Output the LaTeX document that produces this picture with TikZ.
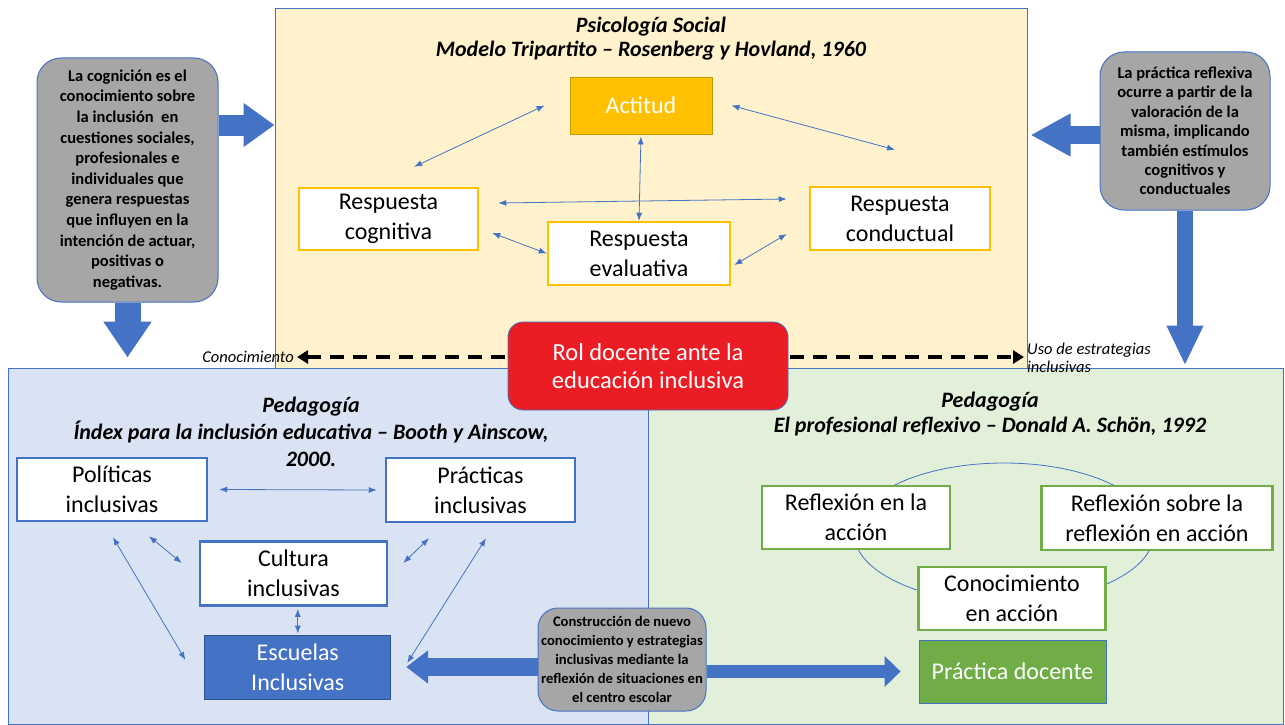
\documentclass[tikz,border=0pt]{standalone}
\usepackage{fontspec}
\setmainfont{Carlito}
\usetikzlibrary{arrows.meta}

\definecolor{officeblue}{HTML}{4472C4}
\definecolor{darkblue}{HTML}{2F528F}
\definecolor{gold}{HTML}{FFC000}
\definecolor{darkgold}{HTML}{C49A00}
\definecolor{leafgreen}{HTML}{70AD47}
\definecolor{notegray}{HTML}{A6A6A6}
\definecolor{rolred}{HTML}{EC1C24}
\definecolor{yellowbg}{HTML}{FFF2CC}
\definecolor{bluebg}{HTML}{DAE3F3}
\definecolor{greenbg}{HTML}{E2F0D9}

\begin{document}
\begin{tikzpicture}[x=1pt,y=-1pt,
  panel/.style={draw=officeblue, line width=1pt},
  heading/.style={font=\bfseries\itshape\fontsize{22}{#1}\selectfont, align=center},
  boxtext/.style={font=\fontsize{24}{30}\selectfont, align=center, inner sep=0pt},
  goldbox/.style={boxtext, draw=gold, line width=2.5pt, fill=white},
  bluebox/.style={boxtext, draw=officeblue, line width=2.5pt, fill=white},
  greenbox/.style={boxtext, draw=leafgreen, line width=2.5pt, fill=white},
  note/.style={draw=officeblue, line width=1pt, fill=notegray, align=center, inner sep=0pt,
    font=\bfseries\fontsize{16.5}{#1}\selectfont},
  link/.style={officeblue, line width=0.8pt, {Latex[length=8pt,width=6pt]}-{Latex[length=8pt,width=6pt]}},
  bigarrow/.style args={#1/#2/#3}{officeblue, line width=#1, -{Triangle[width=#2,length=#3]}},
  sidelabel/.style={font=\itshape\fontsize{16.5}{18}\selectfont, inner sep=0pt}]

  \useasboundingbox (0,0) rectangle (1285,725);

  % three panels
  \node[panel, fill=yellowbg, minimum width=752, minimum height=359] (psico) at (651,188.5) {};
  \node[panel, fill=bluebg, minimum width=640, minimum height=356] (bluepanel) at (328,546) {};
  \node[panel, fill=greenbg, minimum width=635, minimum height=356] (greenpanel) at (965.5,546) {};

  \node[heading=24] (psicotitle) at (651,39) {Psicología Social\\Modelo Tripartito – Rosenberg y Hovland, 1960};
  \node[heading=27] (indextitle) at (311,432) {Pedagogía\\Índex para la inclusión educativa – Booth y Ainscow,\\2000.};
  \node[heading=25] (schontitle) at (990,414) {Pedagogía\\El profesional reflexivo – Donald A. Schön, 1992};

  % tripartite model
  \node[boxtext, fill=gold, draw=darkgold, line width=0.8pt, text=white, minimum width=142, minimum height=57] (act) at (641,105.5) {Actitud};
  \node[goldbox, minimum width=179, minimum height=62] (cog) at (388.5,219) {Respuesta\\cognitiva};
  \node[goldbox, minimum width=182, minimum height=63] (eva) at (639,253.5) {Respuesta\\evaluativa};
  \node[goldbox, minimum width=180, minimum height=63] (con) at (900,218.5) {Respuesta\\conductual};

  \draw[link] ([shift={(25.5,-20)}]cog.north) -- ([shift={(-25,0)}]act.west);
  \draw[link] ([shift={(19,0)}]act.east) -- ([shift={(-5,-36)}]con.north);
  \draw[link, shorten <=2pt] (act.south) -- (eva.north);
  \draw[link] ([shift={(19,-16)}]cog.east) -- ([shift={(-22,-19.5)}]con.west);
  \draw[link] ([shift={(13,14)}]cog.east) -- (eva.west);
  \draw[link] ([shift={(3,11.5)}]eva.east) -- ([shift={(-22,15.5)}]con.west);

  % index for inclusion
  \node[bluebox, minimum width=190, minimum height=63] (pol) at (112,489.5) {Políticas\\inclusivas};
  \node[bluebox, minimum width=189, minimum height=64] (pra) at (480.5,490) {Prácticas\\inclusivas};
  \node[bluebox, minimum width=187, minimum height=64] (cul) at (293.5,573.5) {Cultura\\inclusivas};
  \node[boxtext, fill=officeblue, draw=darkblue, line width=0.8pt, text=white, minimum width=186, minimum height=64] (esc) at (297.8,667) {Escuelas\\Inclusivas};

  \draw[link] ([shift={(11,0)}]pol.east) -- ([shift={(-8,0)}]pra.west);
  \draw[link] ([shift={(1,15)}]pol.south) -- ([shift={(-19,-7)}]esc.west);
  \draw[link] ([shift={(37,14)}]pol.south) -- ([shift={(-17,-10.5)}]cul.west);
  \draw[link] ([shift={(-51.5,15)}]pra.south) -- ([shift={(15,-10.5)}]cul.east);
  \draw[link] ([shift={(5.5,15)}]pra.south) -- ([shift={(16,-4)}]esc.east);
  \draw[link, shorten <=1pt, shorten >=2pt] (esc.north) -- (esc.north |- cul.south);

  % reflective practitioner
  \draw[officeblue, line width=0.8pt] (1004,533) ellipse [x radius=150, y radius=70];
  \node[greenbox, minimum width=188, minimum height=63] (rea) at (856,517.5) {Reflexión en la\\acción};
  \node[greenbox, minimum width=231, minimum height=64] (rsr) at (1157,518) {Reflexión sobre la\\reflexión en acción};
  \node[greenbox, minimum width=187, minimum height=63] (cac) at (1012,598.5) {Conocimiento\\en acción};
  \node[boxtext, fill=leafgreen, draw=officeblue, line width=0.8pt, text=white, minimum width=187, minimum height=63] (pdo) at (1012.5,671.5) {Práctica docente};

  % grey notes and block arrows
  \node[note=20.6, rounded corners=24pt, minimum width=181, minimum height=244] (leftnote) at (127.5,180)
    {La cognición es el\\conocimiento sobre\\la inclusión\ \ en\\cuestiones sociales,\\profesionales e\\individuales que\\genera respuestas\\que influyen en la\\intención de actuar,\\positivas o\\negativas.};
  \node[note=19.4, font=\bfseries\fontsize{16.5}{19.4}\selectfont, rounded corners=24pt, minimum width=170, minimum height=158] (rightnote) at (1185,131)
    {La práctica reflexiva\\ocurre a partir de la\\valoración de la\\misma, implicando\\también estímulos\\cognitivos y\\conductuales};
  \node[note=19.2, font=\bfseries\fontsize{14.6}{19.2}\selectfont, rounded corners=20pt, minimum width=168, minimum height=103] (midnote) at (622,659.5)
    {Construcción de nuevo\\conocimiento y estrategias\\inclusivas mediante la\\reflexión de situaciones en\\el centro escolar};

  \draw[bigarrow=21pt/42pt/31pt] ([yshift=55pt]leftnote.east) -- ([yshift=63.5pt]psico.west);
  \draw[bigarrow=26pt/46pt/36pt, shorten >=10pt] (leftnote.south) -- (leftnote.south |- bluepanel.north);
  \draw[bigarrow=18pt/40pt/40pt, shorten >=3pt] ([yshift=-4pt]rightnote.west) -- ([yshift=53.5pt]psico.east);
  \draw[bigarrow=16pt/34pt/40pt, shorten >=2pt] (rightnote.south) -- (rightnote.south |- greenpanel.north);
  \draw[bigarrow=18pt/32pt/22pt, shorten >=15pt] ([yshift=-7.5pt]midnote.west) -- (esc.east);
  \draw[bigarrow=13pt/30pt/16pt, shorten >=18pt] ([yshift=-12pt]midnote.east) -- (pdo.west);

  % teacher role
  \node[sidelabel, anchor=east] (cono) at (294,357) {Conocimiento};
  \node[sidelabel, anchor=west, align=left] (uso) at (1027,358) {Uso de estrategias\\inclusivas};
  \draw[line width=3.5pt, dash pattern=on 14pt off 9pt, {Triangle[length=11pt,width=13pt]}-{Triangle[length=11pt,width=13pt]}, shorten <=3pt, shorten >=3pt]
    (cono.east) -- (cono.east -| uso.west);
  \node[boxtext, font=\fontsize{24.5}{28.5}\selectfont, fill=rolred, draw=officeblue, line width=0.8pt, text=white, rounded corners=15pt, minimum width=280, minimum height=88] (rol) at (648,366)
    {Rol docente ante la\\educación inclusiva};
\end{tikzpicture}
\end{document}
